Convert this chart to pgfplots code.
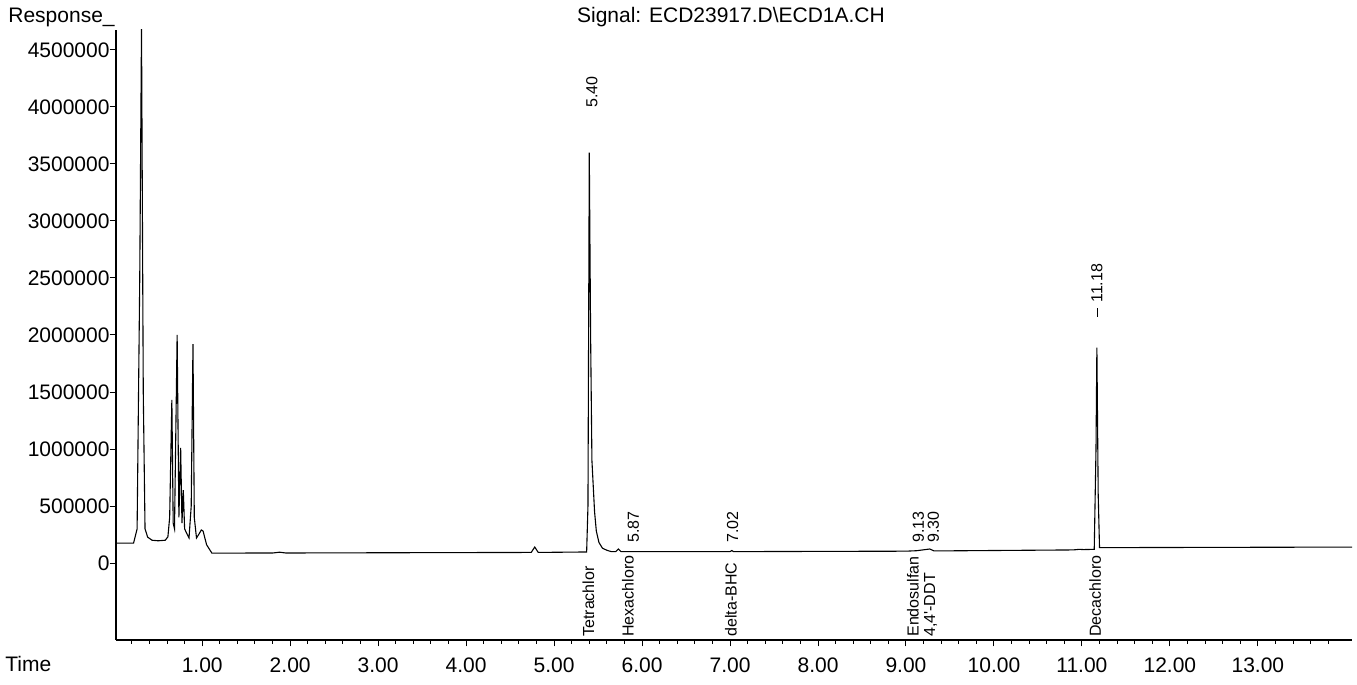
\documentclass[border=0pt]{standalone}
\usepackage{pgfplots}
\pgfplotsset{compat=1.18}
\usepackage{fontspec}
\setmainfont{Liberation Sans}

\begin{document}
\begin{tikzpicture}[x=1pt,y=1pt]
\useasboundingbox (-58,-22.5) rectangle (620.5,320);
\begin{axis}[
  at={(0,0)}, anchor=south west,
  scale only axis, width=618pt, height=305pt,
  xmin=0.02, xmax=14.07, ymin=-675000, ymax=4675000,
  axis x line=bottom, axis y line=left, axis line style={-, line width=0.6pt},
  tick align=outside,
  xtick={1,2,...,13},
  minor xtick={0.2,0.4,0.6,0.8,1.2,1.4,1.6,1.8,2.2,2.4,2.6,2.8,3.2,3.4,3.6,3.8,4.2,4.4,4.6,4.8,5.2,5.4,5.6,5.8,6.2,6.4,6.6,6.8,7.2,7.4,7.6,7.8,8.2,8.4,8.6,8.8,9.2,9.4,9.6,9.8,10.2,10.4,10.6,10.8,11.2,11.4,11.6,11.8,12.2,12.4,12.6,12.8,13.2,13.4,13.6,13.8},
  ytick={0,500000,...,4500000},
  major tick length=3.2pt, minor tick length=2pt,
  tick style={line width=0.5pt, black},
  scaled y ticks=false,
  xticklabel style={yshift=-2pt, /pgf/number format/fixed, /pgf/number format/precision=2, /pgf/number format/fixed zerofill},
  yticklabel style={xshift=3.5pt, /pgf/number format/fixed, /pgf/number format/1000 sep={}},
  /pgf/number format/assume math mode=true,
  ticklabel style={font=\fontsize{10.5}{12}\selectfont},
  clip=true,
]
\addplot[black, line width=0.55pt] coordinates {
(0.02,175000) (0.22,175000) (0.26,300000) (0.29,2500000) (0.31,4700000)
(0.33,1500000) (0.35,300000) (0.38,227000) (0.43,200000) (0.50,195000)
(0.58,200000) (0.61,230000) (0.63,400000) (0.655,1430000) (0.67,350000)
(0.685,300000) (0.715,2000000) (0.735,400000) (0.755,1010000) (0.77,350000)
(0.785,640000) (0.80,300000) (0.83,250000) (0.85,220000) (0.875,500000)
(0.895,1920000) (0.91,400000) (0.935,220000) (0.96,250000) (0.99,290000)
(1.01,280000) (1.05,160000) (1.11,87000) (1.80,88000) (1.88,95000)
(1.95,88000) (3.00,90000) (4.74,93000) (4.78,140000) (4.82,93000)
(5.37,97000) (5.385,500000) (5.40,3600000) (5.415,2000000) (5.43,900000)
(5.46,450000) (5.48,280000) (5.51,180000) (5.55,130000) (5.60,112000)
(5.65,100000) (5.70,100000) (5.73,123000) (5.76,100000) (7.00,100000)
(7.02,110000) (7.04,100000) (9.00,104000) (9.12,108000) (9.27,123000)
(9.32,106000) (10.90,115000) (10.97,120000) (11.02,118000) (11.14,120000)
(11.16,1000000) (11.17,1890000) (11.185,600000) (11.20,135000) (14.07,140000)
};
\begin{scope}[every node/.style={rotate=90, anchor=west, inner sep=0pt, font=\fontsize{8}{9}\selectfont}]
\node at (axis cs:5.43,3990000) {5.40};
\node at (axis cs:5.90,175000) {5.87};
\node at (axis cs:7.03,175000) {7.02};
\node at (axis cs:9.14,175000) {9.13};
\node at (axis cs:9.31,175000) {9.30};
\node at (axis cs:11.17,2280000) {11.18};
\node at (axis cs:5.39,-649000) {Tetrachlor};
\node at (axis cs:5.84,-649000) {Hexachloro};
\node at (axis cs:7.01,-649000) {delta-BHC};
\node at (axis cs:9.08,-649000) {Endosulfan};
\node at (axis cs:9.28,-649000) {4,4\textquotesingle-DDT};
\node at (axis cs:11.15,-649000) {Decachloro};
\end{scope}
\draw[line width=0.5pt] (axis cs:11.18,2158000) -- (axis cs:11.18,2237000);
\end{axis}
\node[anchor=base west, inner sep=0pt, font=\fontsize{10.5}{12}\selectfont] at (-54,308.5) {Response\_};
\node[anchor=base, inner sep=0pt, font=\fontsize{10.5}{12}\selectfont] at (307.5,308.5) {Signal: ECD23917.D\textbackslash ECD1A.CH};
\node[anchor=base west, inner sep=0pt, font=\fontsize{10.5}{12}\selectfont] at (-55.5,-16) {Time};
\end{tikzpicture}
\end{document}
